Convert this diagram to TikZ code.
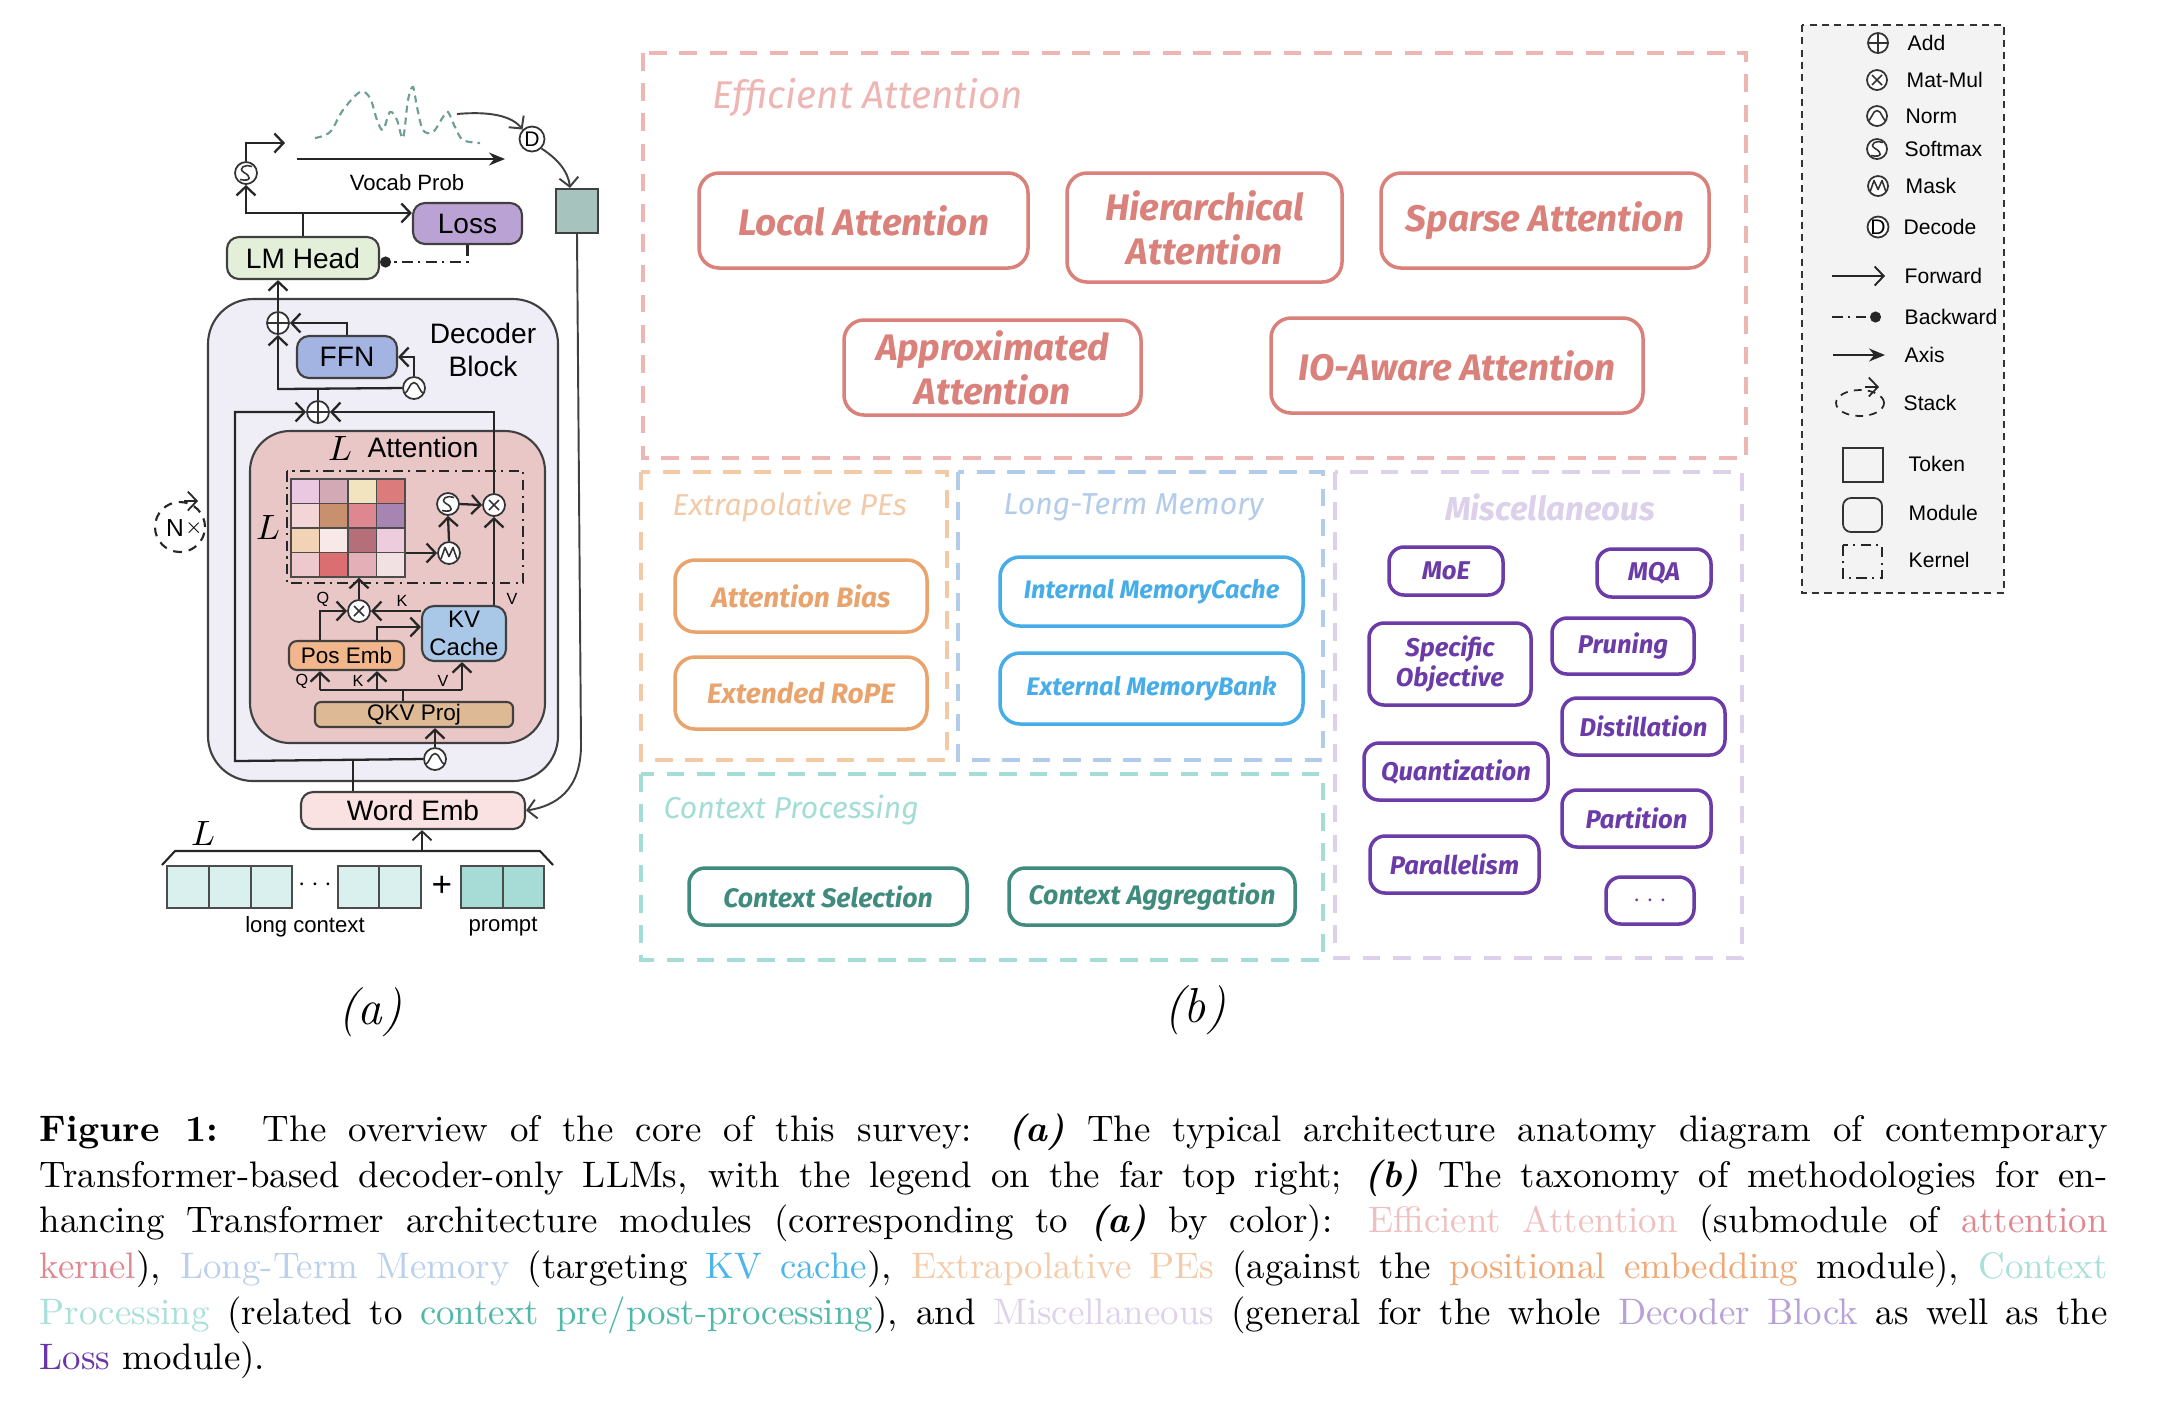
\documentclass[tikz,border=0pt]{standalone}
\usepackage{fontspec}
\newfontfamily\archfont{Liberation Sans}
\newfontfamily\taxofont{Fira Sans}
\usetikzlibrary{arrows.meta,positioning}

% module fills of the architecture
\definecolor{decfill}{HTML}{EFEDF6}
\definecolor{attnfill}{HTML}{E9C7C7}
\definecolor{headfill}{HTML}{E4EFDA}
\definecolor{lossfill}{HTML}{BBA2D4}
\definecolor{ffnfill}{HTML}{A4B4E2}
\definecolor{posfill}{HTML}{F2B68C}
\definecolor{kvfill}{HTML}{A9C8E8}
\definecolor{qkvfill}{HTML}{DDB995}
\definecolor{wordfill}{HTML}{FBE2E2}
\definecolor{tokfill}{HTML}{A7C3BE}
\definecolor{ctxfill}{HTML}{DAF0EE}
\definecolor{promptfill}{HTML}{A6DCD5}
\definecolor{wave}{HTML}{6E9E96}
\definecolor{legfill}{HTML}{F3F3F3}
% taxonomy colours
\definecolor{effgroup}{HTML}{EDB6B3}
\definecolor{effline}{HTML}{D9817A}
\definecolor{pegroup}{HTML}{F3CAA8}
\definecolor{peline}{HTML}{E9A36D}
\definecolor{ltmgroup}{HTML}{B3CCE9}
\definecolor{ltmline}{HTML}{47ADE8}
\definecolor{cpgroup}{HTML}{A4DDD5}
\definecolor{cpline}{HTML}{3F8B7D}
\definecolor{miscgroup}{HTML}{DCD0EA}
\definecolor{miscline}{HTML}{6B3BA8}
% caption colours
\definecolor{capEff}{HTML}{EFC0C0}
\definecolor{capKer}{HTML}{E08890}
\definecolor{capLTM}{HTML}{BBD0EC}
\definecolor{capKV}{HTML}{4DB5EC}
\definecolor{capPE}{HTML}{F3CBA9}
\definecolor{capPos}{HTML}{EFA877}
\definecolor{capCP}{HTML}{A9E0D8}
\definecolor{capCtx}{HTML}{4FB8A8}
\definecolor{capMisc}{HTML}{DDD1EC}
\definecolor{capDec}{HTML}{B8A0D8}
\definecolor{capLoss}{HTML}{6A35A8}

\tikzset{
  module/.style={draw=black!75, line width=0.6pt, rounded corners=1.2mm, inner sep=0pt, font=\archfont\fontsize{8}{9.6}\selectfont},
  small/.style={inner sep=0pt, font=\archfont\fontsize{6.3}{7.5}\selectfont},
  tiny/.style={inner sep=0pt, font=\archfont\fontsize{4.6}{5}\selectfont},
  op/.style={circle, draw=black!80, fill=white, line width=0.5pt, minimum size=2.2mm, inner sep=0pt},
  addop/.style={op, path picture={\draw[line width=0.45pt] (path picture bounding box.north) -- (path picture bounding box.south) (path picture bounding box.west) -- (path picture bounding box.east);}},
  mulop/.style={op, path picture={\draw[line width=0.45pt, shift={(path picture bounding box.center)}] (-0.5mm,-0.5mm) -- (0.5mm,0.5mm) (-0.5mm,0.5mm) -- (0.5mm,-0.5mm);}},
  normop/.style={op, path picture={\draw[line width=0.45pt, shift={(path picture bounding box.center)}] (-1.1mm,-0.6mm) .. controls (-0.5mm,-0.5mm) and (-0.5mm,0.55mm) .. (0,0.55mm) .. controls (0.5mm,0.55mm) and (0.5mm,-0.5mm) .. (1.1mm,-0.6mm);}},
  smop/.style={op, path picture={\draw[line width=0.45pt, shift={(path picture bounding box.center)}] (0.6mm,0.65mm) .. controls (0,0.95mm) and (-0.9mm,0.5mm) .. (-0.2mm,0.05mm) .. controls (0.5mm,-0.3mm) and (0.6mm,-0.9mm) .. (-0.6mm,-0.65mm);}},
  maskop/.style={op, path picture={\draw[line width=0.45pt, line join=round, shift={(path picture bounding box.center)}] (-0.8mm,-0.6mm) -- (-0.4mm,0.55mm) -- (0,-0.35mm) -- (0.4mm,0.55mm) -- (0.8mm,-0.6mm);}},
  decop/.style={op, minimum size=2.5mm, font=\archfont\fontsize{6}{6}\selectfont},
  wire/.style={line width=0.65pt, draw=black!85},
  fwd/.style={wire, -{Straight Barb[length=0.9mm,width=1.9mm]}},
  axis/.style={line width=0.5pt, draw=black!85, -{Stealth[length=1.6mm,width=1.3mm]}},
  back/.style={line width=0.6pt, draw=black!85, dash pattern=on 3pt off 1.6pt on 0.6pt off 1.6pt, -{Circle[length=1.1mm]}},
  kernel/.style={line width=0.6pt, draw=black!85, dash pattern=on 3pt off 1.5pt on 0.6pt off 1.5pt},
  cell/.style={draw=black!70, line width=0.5pt, minimum width=4.17mm, minimum height=4.2mm, inner sep=0pt},
  group/.style={line width=1.2pt, dash pattern=on 5pt off 3.6pt},
  grouplabel/.style={anchor=west, inner sep=0pt, font=\taxofont\itshape\fontsize{8.6}{10}\selectfont},
  effbox/.style={draw=effline, text=effline, line width=1pt, rounded corners=2mm, align=center, inner sep=0pt, font=\taxofont\bfseries\itshape\fontsize{10.5}{12.5}\selectfont},
  pebox/.style={draw=peline, text=peline, line width=1pt, rounded corners=2mm, inner sep=0pt, font=\taxofont\bfseries\itshape\fontsize{8}{9.5}\selectfont},
  ltmbox/.style={draw=ltmline, text=ltmline, line width=1pt, rounded corners=2mm, inner sep=0pt, font=\taxofont\bfseries\itshape\fontsize{7.2}{9}\selectfont},
  cpbox/.style={draw=cpline, text=cpline, line width=1pt, rounded corners=1.6mm, inner sep=0pt, font=\taxofont\bfseries\itshape\fontsize{7.6}{9}\selectfont},
  miscbox/.style={draw=miscline, text=miscline, line width=1pt, rounded corners=1.5mm, align=center, inner sep=0pt, font=\taxofont\bfseries\itshape\fontsize{7.3}{8.6}\selectfont},
  legtext/.style={anchor=west, inner sep=0pt, font=\archfont\fontsize{6}{7}\selectfont},
  sublabel/.style={inner sep=0pt, font=\itshape\fontsize{14}{16}\selectfont}
}

\begin{document}
\begin{tikzpicture}[x=0.1mm,y=-0.1mm]
\useasboundingbox (0,0) rectangle (2178,1406);
\fill[white] (0,0) rectangle (2178,1406);

% (a) architecture
\node[module, fill=decfill, rounded corners=4.5mm, minimum width=35mm, minimum height=48.2mm] (decoder) at (383,540) {};
\node[module, fill=attnfill, rounded corners=4mm, minimum width=29.5mm, minimum height=31.2mm] (attn) at (397.5,587) {};
\node[module, align=center, draw=none, fill=none] (declabel) at (483,350) {Decoder\\Block};
\node[inner sep=0pt, font=\fontsize{10}{10}\selectfont] (attnL) at (340,448) {$L$};
\node[module, draw=none, fill=none] (attnlabel) at (423,447) {Attention};
\draw[kernel] (287,471) rectangle (523,583);
\node[inner sep=0pt, font=\fontsize{10}{10}\selectfont] (gridL) at (268,527) {$L$};

% attention scores
\filldraw[fill={rgb,255:red,235;green,200;blue,226}, draw=black!70, line width=0.5pt] (291,479) rectangle +(28.5,24.5);
\filldraw[fill={rgb,255:red,212;green,169;blue,182}, draw=black!70, line width=0.5pt] (319.5,479) rectangle +(28.5,24.5);
\filldraw[fill={rgb,255:red,243;green,228;blue,192}, draw=black!70, line width=0.5pt] (348,479) rectangle +(28.5,24.5);
\filldraw[fill={rgb,255:red,219;green,123;blue,123}, draw=black!70, line width=0.5pt] (376.5,479) rectangle +(28.5,24.5);
\filldraw[fill={rgb,255:red,243;green,213;blue,216}, draw=black!70, line width=0.5pt] (291,503.5) rectangle +(28.5,24.5);
\filldraw[fill={rgb,255:red,201;green,144;blue,111}, draw=black!70, line width=0.5pt] (319.5,503.5) rectangle +(28.5,24.5);
\filldraw[fill={rgb,255:red,223;green,135;blue,145}, draw=black!70, line width=0.5pt] (348,503.5) rectangle +(28.5,24.5);
\filldraw[fill={rgb,255:red,168;green,132;blue,179}, draw=black!70, line width=0.5pt] (376.5,503.5) rectangle +(28.5,24.5);
\filldraw[fill={rgb,255:red,243;green,211;blue,182}, draw=black!70, line width=0.5pt] (291,528) rectangle +(28.5,24.5);
\filldraw[fill={rgb,255:red,248;green,232;blue,232}, draw=black!70, line width=0.5pt] (319.5,528) rectangle +(28.5,24.5);
\filldraw[fill={rgb,255:red,180;green,111;blue,120}, draw=black!70, line width=0.5pt] (348,528) rectangle +(28.5,24.5);
\filldraw[fill={rgb,255:red,236;green,204;blue,221}, draw=black!70, line width=0.5pt] (376.5,528) rectangle +(28.5,24.5);
\filldraw[fill={rgb,255:red,237;green,201;blue,206}, draw=black!70, line width=0.5pt] (291,552.5) rectangle +(28.5,24.5);
\filldraw[fill={rgb,255:red,219;green,110;blue,112}, draw=black!70, line width=0.5pt] (319.5,552.5) rectangle +(28.5,24.5);
\filldraw[fill={rgb,255:red,228;green,176;blue,184}, draw=black!70, line width=0.5pt] (348,552.5) rectangle +(28.5,24.5);
\filldraw[fill={rgb,255:red,241;green,225;blue,226}, draw=black!70, line width=0.5pt] (376.5,552.5) rectangle +(28.5,24.5);
\node[inner sep=0pt, minimum width=11.4mm, minimum height=9.8mm] (score) at (348,528) {};

\node[module, fill=headfill, minimum width=15.2mm, minimum height=4.2mm] (lmhead) at (303,258) {LM Head};
\node[module, fill=lossfill, minimum width=10.9mm, minimum height=4.1mm] (loss) at (467.5,223.5) {Loss};
\node[module, fill=tokfill, rounded corners=0pt, minimum width=4.2mm, minimum height=4.4mm] (token) at (577,211) {};
\node[module, fill=ffnfill, minimum width=10mm, minimum height=4.2mm] (ffn) at (347,357) {FFN};
\node[module, fill=posfill, rounded corners=0.8mm, minimum width=11.5mm, minimum height=2.9mm, font=\archfont\fontsize{6.4}{7.6}\selectfont] (posemb) at (346.5,655.5) {Pos Emb};
\node[module, fill=kvfill, align=center, minimum width=8.4mm, minimum height=5.5mm, font=\archfont\fontsize{6.8}{7.8}\selectfont] (kv) at (464,633.5) {KV\\Cache};
\node[module, fill=qkvfill, rounded corners=0.6mm, minimum width=19.8mm, minimum height=2.5mm, font=\archfont\fontsize{6.4}{7.6}\selectfont] (qkv) at (414,714.5) {QKV Proj};
\node[module, fill=wordfill, minimum width=22.4mm, minimum height=3.7mm] (wordemb) at (413,810.5) {Word Emb};

\node[smop] (sm1) at (246,173) {};
\node[decop] (dec) at (532,139) {D};
\node[addop] (add1) at (278,323) {};
\node[normop] (norm1) at (414,388) {};
\node[addop] (add2) at (318,412) {};
\node[mulop] (mul1) at (494,505) {};
\node[smop] (sm2) at (448,504) {};
\node[maskop] (mask) at (449,553) {};
\node[mulop] (mul2) at (359,611) {};
\node[normop] (norm2) at (435,759) {};

% residual stream and attention wiring
\coordinate (resid) at (353,761);
\coordinate (skipL) at (235,761);
\draw[wire] (resid |- wordemb.north) -- (resid);
\draw[fwd] (norm2.west) -- (skipL) -- (skipL |- add2) -- (add2.west);
\draw[fwd] (norm2.north) -- (norm2.north |- qkv.south);
\coordinate (qQ) at (320,690);
\coordinate (qK) at (377,690);
\coordinate (qV) at (462,690);
\coordinate (qS) at (403,690);
\draw[wire] (qkv.north -| qS) -- (qS);
\draw[wire] (qQ) -- (qV);
\draw[fwd] (qQ) -- (qQ |- posemb.south);
\draw[fwd] (qK) -- (qK |- posemb.south);
\draw[fwd] (qV) -- (qV |- kv.south);
\node[tiny] (lq1) at (302,681) {Q};
\node[tiny] (lk1) at (358,681) {K};
\node[tiny] (lv1) at (443,681) {V};
\draw[fwd] (posemb.north -| qQ) |- (mul2.west);
\draw[fwd] (posemb.north -| qK) |- ([yshift=0.65mm]kv.west);
\draw[fwd] (mul2.east -| kv.west) -- (mul2.east);
\node[tiny] (lq2) at (323,599) {Q};
\node[tiny] (lk2) at (402,601) {K};
\node[tiny] (lv2) at (512,599) {V};
\draw[fwd] (mul2.north) -- (mul2.north |- score.south);
\draw[fwd] (score.east |- mask) -- (mask.west);
\draw[fwd] (mask.north) -- (sm2.south);
\draw[fwd] (sm2.east) -- (mul1.west);
\draw[fwd] (kv.north -| mul1) -- (mul1.south);
\draw[fwd] (mul1.north) |- (add2.east);
\coordinate (res2) at (278,389);
\draw[fwd] (add2.north) |- (res2) -- (add1.south);
\draw[wire] (res2) -- (norm1.west);
\draw[fwd] (norm1.north) |- (ffn.east);
\draw[fwd] (ffn.north) |- (add1.east);
\draw[fwd] (add1.north) -- (add1.north |- lmhead.south);

% head, loss and decoding
\coordinate (headsplit) at (303,213);
\coordinate (probout) at (285,143);
\draw[wire] (lmhead.north -| headsplit) -- (headsplit);
\draw[fwd] (headsplit) -| (sm1.south);
\draw[fwd] (headsplit) -- (headsplit -| loss.west);
\draw[fwd] (sm1.north) |- (probout);
\draw[back] (loss.south) |- ([yshift=-0.4mm]lmhead.east);
\coordinate (axisL) at (297,159);
\coordinate (axisR) at (505,159);
\draw[axis] (axisL) -- (axisR);
\node[small] (vocab) at (407,183) {Vocab Prob};
\draw[wave, dash pattern=on 2pt off 1.4pt, line width=0.6pt] plot[smooth, tension=0.55] coordinates {(315,138) (330,132) (343,110) (360,92) (370,98) (377,120) (383,130) (390,112) (397,120) (403,138) (408,100) (413,87) (417,107) (423,130) (433,132) (443,117) (448,112) (455,127) (463,140) (480,143)};
\coordinate (waveend) at (457,114);
\draw[fwd, line width=0.55pt, draw=black!75] (waveend) .. controls (490,111) and (512,116) .. (dec.north west);
\draw[fwd, line width=0.55pt, draw=black!75] (dec.south east) .. controls (556,158) and (568,170) .. ([xshift=-0.7mm]token.north);
\draw[fwd, line width=0.55pt, draw=black!75] (token.south) -- (581,745) .. controls (581,790) and (556,806) .. (wordemb.east);

% stack marker
\node[circle, draw=black!85, dash pattern=on 2.5pt off 2pt, line width=0.6pt, minimum size=5mm, inner sep=0pt] (stack) at (180,527) {};
\draw[fwd, line width=0.5pt] (184,501) -- (198,501);
\node[inner sep=0pt, font=\archfont\fontsize{7}{7}\selectfont] (stackN) at (175,528) {N};
\node[inner sep=0pt, font=\archfont\fontsize{5}{5}\selectfont] (stackX) at (194,528) {$\times$};

% input tokens
\node[cell, fill=ctxfill] (t1) at (188,887) {};
\node[cell, fill=ctxfill] (t2) at (230,887) {};
\node[cell, fill=ctxfill] (t3) at (271.5,887) {};
\node[inner sep=0pt, font=\archfont\fontsize{7}{7}\selectfont] (tdots) at (315,885) {$\cdots$};
\node[cell, fill=ctxfill] (t4) at (358.5,887) {};
\node[cell, fill=ctxfill] (t5) at (400,887) {};
\node[inner sep=0pt, font=\archfont\fontsize{10}{10}\selectfont] (tplus) at (442,886) {+};
\node[cell, fill=promptfill] (p1) at (482,887) {};
\node[cell, fill=promptfill] (p2) at (523.5,887) {};
\draw[wire, line width=0.6pt] (162,865) -- (175,851) -- (540,851) -- (553,865);
\coordinate (ctxin) at (422,851);
\draw[fwd, line width=0.5pt] (ctxin) -- (ctxin |- wordemb.south);
\node[inner sep=0pt, font=\fontsize{10}{10}\selectfont] (braceL) at (203,833) {$L$};
\node[small] (lctx) at (305,927) {long context};
\node[small] (lprompt) at (503,927) {prompt};
\node[sublabel] (suba) at (370,1012) {(a)};

% (b) taxonomy
\draw[group, draw=effgroup] (643,53) rectangle (1746,458);
\node[grouplabel, text=effgroup, font=\taxofont\itshape\fontsize{11}{12}\selectfont] (efflabel) at (712,98) {Efficient Attention};
\node[effbox, minimum width=32.9mm, minimum height=9.5mm] (local) at (863.5,220.5) {Local Attention};
\node[effbox, minimum width=27.5mm, minimum height=10.9mm] (hier) at (1204.5,227.5) {Hierarchical\\Attention};
\node[effbox, minimum width=32.8mm, minimum height=9.5mm] (sparse) at (1545,220.5) {Sparse Attention};
\node[effbox, minimum width=29.7mm, minimum height=9.5mm] (approx) at (992.5,367.5) {Approximated\\Attention};
\node[effbox, minimum width=37.2mm, minimum height=9.5mm] (ioaware) at (1457,365.5) {IO-Aware Attention};

\draw[group, draw=pegroup] (641,472) rectangle (947,760);
\node[grouplabel, text=pegroup] (pelabel) at (672,507) {Extrapolative PEs};
\node[pebox, minimum width=25.2mm, minimum height=7.2mm] (bias) at (801,596) {Attention Bias};
\node[pebox, minimum width=25.2mm, minimum height=7.2mm] (rope) at (801,693) {Extended RoPE};

\draw[group, draw=ltmgroup] (958,472) rectangle (1323,760);
\node[grouplabel, text=ltmgroup] (ltmlabel) at (1003,507) {Long-Term Memory};
\node[ltmbox, minimum width=30.3mm, minimum height=6.9mm] (intmem) at (1151.5,591.5) {Internal MemoryCache};
\node[ltmbox, minimum width=30.3mm, minimum height=7.1mm] (extmem) at (1151.5,688.5) {External MemoryBank};

\draw[group, draw=cpgroup] (641,774) rectangle (1323,960);
\node[grouplabel, text=cpgroup] (cplabel) at (663,810) {Context Processing};
\node[cpbox, minimum width=27.8mm, minimum height=5.7mm] (ctxsel) at (828,896.5) {Context Selection};
\node[cpbox, minimum width=28.6mm, minimum height=5.7mm] (ctxagg) at (1152,896.5) {Context Aggregation};

\draw[group, draw=miscgroup] (1335,472) rectangle (1742,958);
\node[inner sep=0pt, text=miscgroup, font=\taxofont\bfseries\itshape\fontsize{9.4}{11}\selectfont] (misclabel) at (1550,507) {Miscellaneous};
\node[miscbox, minimum width=11.4mm, minimum height=4.8mm] (moe) at (1446,571) {MoE};
\node[miscbox, minimum width=11.4mm, minimum height=4.8mm] (mqa) at (1654,573) {MQA};
\node[miscbox, minimum width=16.2mm, minimum height=8.2mm] (specobj) at (1450,664) {Specific\\Objective};
\node[miscbox, minimum width=14.2mm, minimum height=5.6mm] (pruning) at (1623,646) {Pruning};
\node[miscbox, minimum width=16.3mm, minimum height=5.7mm] (distill) at (1643.5,726.5) {Distillation};
\node[miscbox, minimum width=18.4mm, minimum height=5.7mm] (quant) at (1456,771.5) {Quantization};
\node[miscbox, minimum width=14.9mm, minimum height=5.7mm] (partition) at (1636.5,818.5) {Partition};
\node[miscbox, minimum width=16.9mm, minimum height=5.7mm] (parallel) at (1454.5,864.5) {Parallelism};
\node[miscbox, minimum width=8.8mm, minimum height=4.7mm] (moremisc) at (1650,900.5) {\textbf{$\cdots$}};
\node[sublabel] (subb) at (1195,1010) {(b)};

% legend
\draw[fill=legfill, draw=black!80, line width=0.5pt, dash pattern=on 2pt off 1.5pt] (1802,25) rectangle (2004,593);
\node[addop, minimum size=2mm] (ladd) at (1878,43) {};
\node[legtext] (laddt) at (1907,43) {Add};
\node[mulop, minimum size=2mm] (lmul) at (1877,80) {};
\node[legtext] (lmult) at (1906,80) {Mat-Mul};
\node[normop, minimum size=2mm] (lnorm) at (1877,116) {};
\node[legtext] (lnormt) at (1905,116) {Norm};
\node[smop, minimum size=2mm] (lsm) at (1877,149) {};
\node[legtext] (lsmt) at (1904,149) {Softmax};
\node[maskop, minimum size=2mm] (lmask) at (1878,186) {};
\node[legtext] (lmaskt) at (1905,186) {Mask};
\node[decop, minimum size=2.1mm] (ldec) at (1878,227) {D};
\node[legtext] (ldect) at (1903,227) {Decode};
\coordinate (lfwdA) at (1832,276);
\coordinate (lfwdB) at (1885,276);
\draw[fwd, line width=0.55pt] (lfwdA) -- (lfwdB);
\node[legtext] (lfwdt) at (1904,276) {Forward};
\coordinate (lbackA) at (1832,317);
\coordinate (lbackB) at (1881,317);
\draw[back, line width=0.55pt] (lbackA) -- (lbackB);
\node[legtext] (lbackt) at (1904,317) {Backward};
\coordinate (laxisA) at (1833,355);
\coordinate (laxisB) at (1885,355);
\draw[axis] (laxisA) -- (laxisB);
\node[legtext] (laxist) at (1904,355) {Axis};
\draw[draw=black!85, line width=0.5pt, dash pattern=on 2.2pt off 1.8pt] (1860,403) ellipse [x radius=2.4mm, y radius=1.3mm];
\draw[fwd, line width=0.5pt] (1865,387) -- (1879,387);
\node[legtext] (lstackt) at (1903,403) {Stack};
\draw[draw=black!80, line width=0.5pt] (1843,448) rectangle (1883,482);
\node[legtext] (ltokent) at (1908,464) {Token};
\draw[draw=black!80, line width=0.5pt, rounded corners=0.8mm] (1843,498) rectangle (1882,532);
\node[legtext] (lmodt) at (1908,513) {Module};
\draw[kernel, line width=0.5pt] (1843,545) rectangle (1882,578);
\node[legtext] (lkernt) at (1908,560) {Kernel};

% caption
\node[anchor=north west, inner sep=0pt, align=left, font=\fontsize{10.5}{13}\selectfont] (caption) at (39,1113) {%
\makebox[206.8mm][s]{\textbf{Figure 1:}\ \ The overview of the core of this survey: \textbf{\textit{(a)}} The typical architecture anatomy diagram of contemporary}\\
\makebox[206.8mm][s]{Transformer-based decoder-only LLMs, with the legend on the far top right; \textbf{\textit{(b)}} The taxonomy of methodologies for en-}\\
\makebox[206.8mm][s]{hancing Transformer architecture modules (corresponding to \textbf{\textit{(a)}} by color): \textcolor{capEff}{Efficient Attention} (submodule of \textcolor{capKer}{attention}}\\
\makebox[206.8mm][s]{\textcolor{capKer}{kernel}), \textcolor{capLTM}{Long-Term Memory} (targeting \textcolor{capKV}{KV cache}), \textcolor{capPE}{Extrapolative PEs} (against the \textcolor{capPos}{positional embedding} module), \textcolor{capCP}{Context}}\\
\makebox[206.8mm][s]{\textcolor{capCP}{Processing} (related to \textcolor{capCtx}{context pre/post-processing}), and \textcolor{capMisc}{Miscellaneous} (general for the whole \textcolor{capDec}{Decoder Block} as well as the}\\
\makebox[206.8mm][l]{\textcolor{capLoss}{Loss} module).}};
\end{tikzpicture}
\end{document}
